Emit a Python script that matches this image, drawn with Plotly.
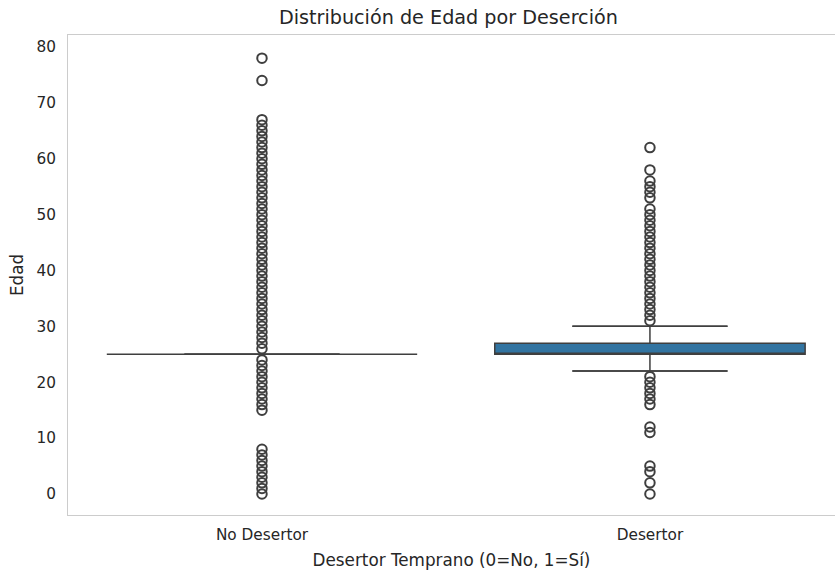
import plotly.graph_objects as go

categories = ["No Desertor", "Desertor"]
q1 = [25, 25]
median = [25, 25]
q3 = [25, 27]
lower_whisker = [25, 22]
upper_whisker = [25, 30]

outliers_no_desertor = [0, 1, 2, 3, 4, 5, 6, 7, 8,
                        15, 16, 17, 18, 19, 20, 21, 22, 23, 24,
                        26, 27, 28, 29, 30, 31, 32, 33, 34, 35, 36, 37, 38, 39, 40,
                        41, 42, 43, 44, 45, 46, 47, 48, 49, 50, 51, 52, 53, 54, 55,
                        56, 57, 58, 59, 60, 61, 62, 63, 64, 65, 66, 67, 74, 78]
outliers_desertor = [0, 2, 4, 5, 11, 12, 16, 17, 18, 19, 20, 21,
                     31, 32, 33, 34, 35, 36, 37, 38, 39, 40, 41, 42, 43, 44, 45,
                     46, 47, 48, 49, 50, 51, 53, 54, 55, 56, 58, 62]
outliers = [outliers_no_desertor, outliers_desertor]

title = "Distribución de Edad por Deserción"
x_title = "Desertor Temprano (0=No, 1=Sí)"
y_title = "Edad"
y_ticks = [0, 10, 20, 30, 40, 50, 60, 70, 80]

box_fill = "#3274a1"
edge = "#3f3f3f"
font_family = "DejaVu Sans"
text_color = "#262626"

positions = list(range(len(categories)))
box_width = 0.8
cap_half = box_width / 4

fig = go.Figure()

fig.add_trace(go.Box(
    x=positions, q1=q1, median=median, q3=q3,
    lowerfence=lower_whisker, upperfence=upper_whisker,
    width=box_width, fillcolor=box_fill,
    line=dict(color=edge, width=1.5),
    boxpoints=False, showlegend=False, hoverinfo="skip",
))

# whisker caps
cap_x, cap_y = [], []
for p, lo, hi in zip(positions, lower_whisker, upper_whisker):
    cap_x += [p - cap_half, p + cap_half, None, p - cap_half, p + cap_half, None]
    cap_y += [lo, lo, None, hi, hi, None]
fig.add_trace(go.Scatter(x=cap_x, y=cap_y, mode="lines",
                         line=dict(color=edge, width=1.5),
                         showlegend=False, hoverinfo="skip"))

for p, vals in zip(positions, outliers):
    fig.add_trace(go.Scatter(
        x=[p] * len(vals), y=vals, mode="markers",
        marker=dict(symbol="circle-open", size=9.5, color=edge,
                    line=dict(width=2, color=edge)),
        showlegend=False,
    ))

fig.update_layout(
    width=835, height=575,
    margin=dict(l=68, r=0, t=35, b=60),
    paper_bgcolor="white", plot_bgcolor="white",
    font=dict(family=font_family, size=15.3, color=text_color),
    title=dict(text=title, x=0.537, xanchor="center", y=0.97, yanchor="middle",
               font=dict(size=19.2, color=text_color)),
    xaxis=dict(
        range=[-0.5, 1.477], tickvals=positions, ticktext=categories,
        tickfont=dict(size=15.3),
        showgrid=False, zeroline=False,
        showline=True, linecolor="#cccccc", linewidth=1, mirror=True,
        ticks="outside", ticklen=6, tickcolor="rgba(0,0,0,0)",
        title=dict(text=x_title, standoff=10, font=dict(size=16.8)),
    ),
    yaxis=dict(
        range=[-3.76, 82.15], tickvals=y_ticks,
        tickfont=dict(size=15.3),
        showgrid=False, zeroline=False,
        showline=True, linecolor="#cccccc", linewidth=1, mirror=True,
        ticks="outside", ticklen=8, tickcolor="rgba(0,0,0,0)",
        title=dict(text=y_title, standoff=8, font=dict(size=16.8)),
    ),
)

fig.write_html("out.html", config={"displayModeBar": False},
               post_script="document.body.style.margin='0';")
